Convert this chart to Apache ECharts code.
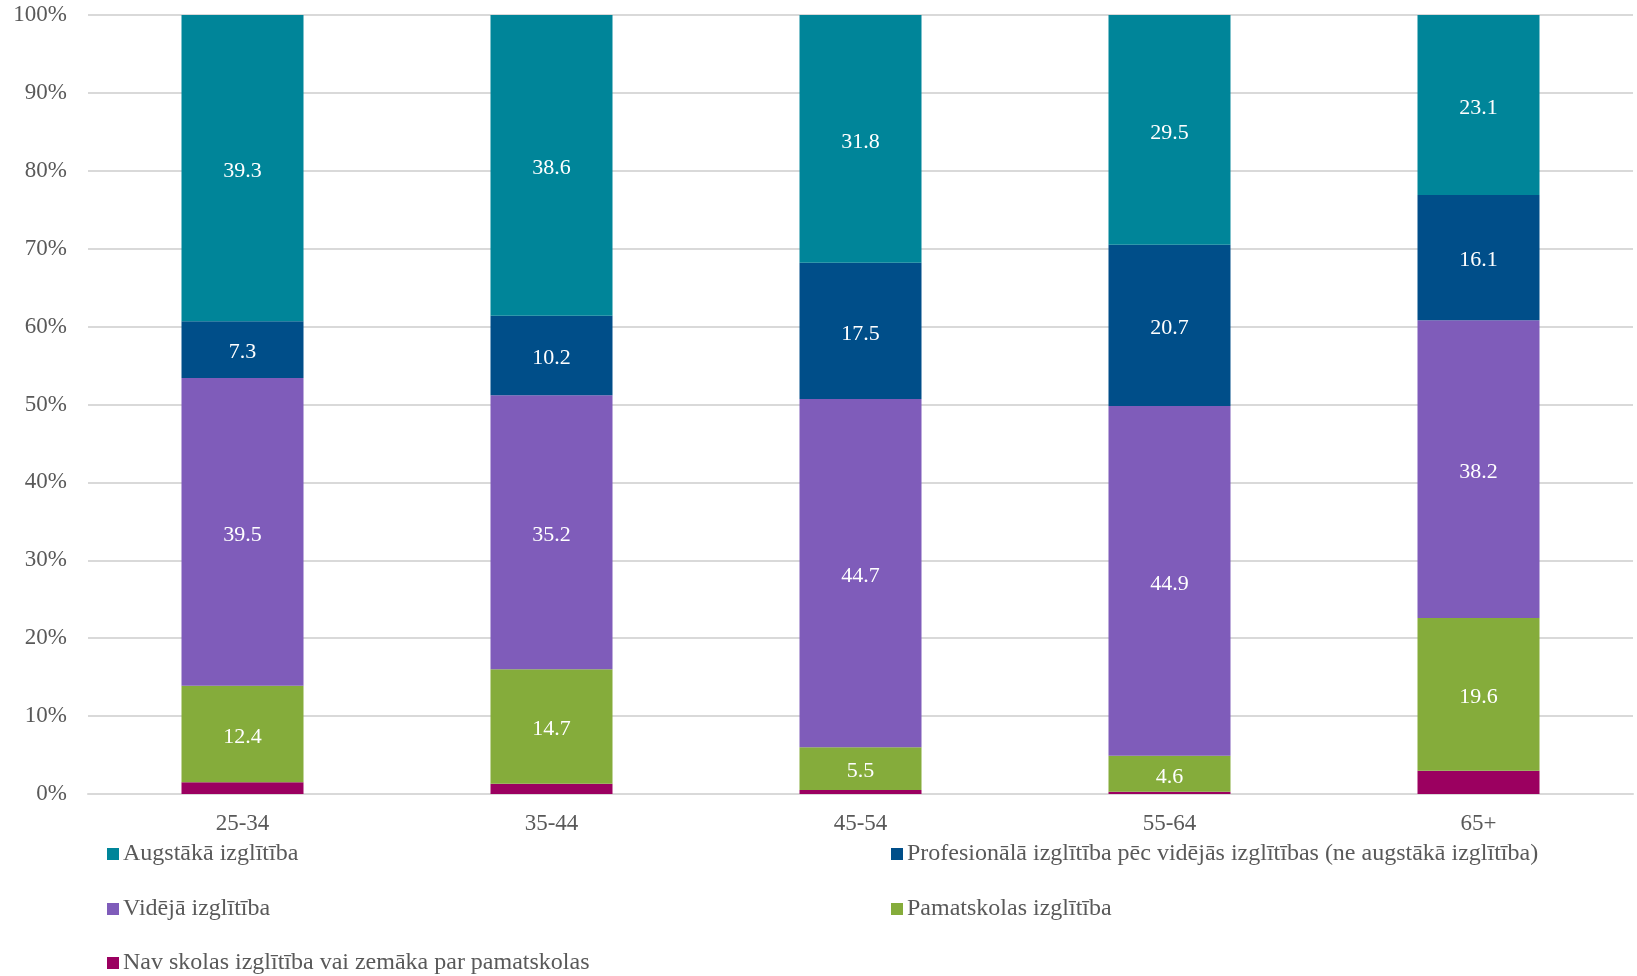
<!DOCTYPE html>
<html><head><meta charset="utf-8">
<script src="https://cdn.jsdelivr.net/npm/echarts@6/dist/echarts.min.js"></script>
<style>html,body{margin:0;padding:0;background:#fff}#c{width:1637px;height:976px}</style>
</head><body><div id="c"></div>
<script>
const categories = ['25-34','35-44','45-54','55-64','65+'];
const seriesNames = ['Nav skolas izglītība vai zemāka par pamatskolas','Pamatskolas izglītība','Vidējā izglītība','Profesionālā izglītība pēc vidējās izglītības (ne augstākā izglītība)','Augstākā izglītība'];
const navSkolas = [1.5, 1.3, 0.5, 0.3, 3.0];
const pamatskolas = [12.4, 14.7, 5.5, 4.6, 19.6];
const videja = [39.5, 35.2, 44.7, 44.9, 38.2];
const profesionala = [7.3, 10.2, 17.5, 20.7, 16.1];
const augstaka = [39.3, 38.6, 31.8, 29.5, 23.1];
const colors = ['#9B0060','#85AC3B','#7F5CBA','#004E89','#008599'];

const values = [navSkolas, pamatskolas, videja, profesionala, augstaka];
const font = '"Liberation Serif", "Times New Roman", serif';
const series = values.map((v,i)=>({
  name: seriesNames[i], type:'bar', stack:'t', barWidth:122,
  data:v, itemStyle:{color:colors[i]},
  label:{show:i>0, position:'inside', offset:[0,3], color:'#fff', fontFamily:font, fontSize:22, formatter:p=>p.value.toFixed(1)}
}));
const legendPos = [
  {name:seriesNames[4], left:102, top:837},
  {name:seriesNames[3], left:886, top:837},
  {name:seriesNames[2], left:102, top:892},
  {name:seriesNames[1], left:886, top:892},
  {name:seriesNames[0], left:102, top:946}
];
const legends = legendPos.map(l=>({data:[l.name], left:l.left, top:l.top, icon:'rect', itemWidth:12, itemHeight:12, itemGap:4,
  textStyle:{fontFamily:font, fontSize:24, color:'#595959', padding:[0,0,0,-1]}, selectedMode:false}));
const chart = echarts.init(document.getElementById('c'));
chart.setOption({
  animation:false,
  textStyle:{fontFamily:font},
  grid:{left:88, right:4, top:15, bottom:182},
  legend: legends,
  xAxis:{type:'category', data:categories, axisTick:{show:false},
    axisLine:{lineStyle:{color:'#d9d9d9', width:2}},
    axisLabel:{fontFamily:font, fontSize:23, color:'#595959', margin:18}},
  yAxis:{type:'value', min:0, max:100, interval:10,
    axisLabel:{fontFamily:font, fontSize:23, color:'#595959', margin:21, formatter:v=>v+'%'},
    splitLine:{lineStyle:{color:'#d9d9d9', width:2}}, axisLine:{show:false}, axisTick:{show:false}},
  series: series
});
</script></body></html>
